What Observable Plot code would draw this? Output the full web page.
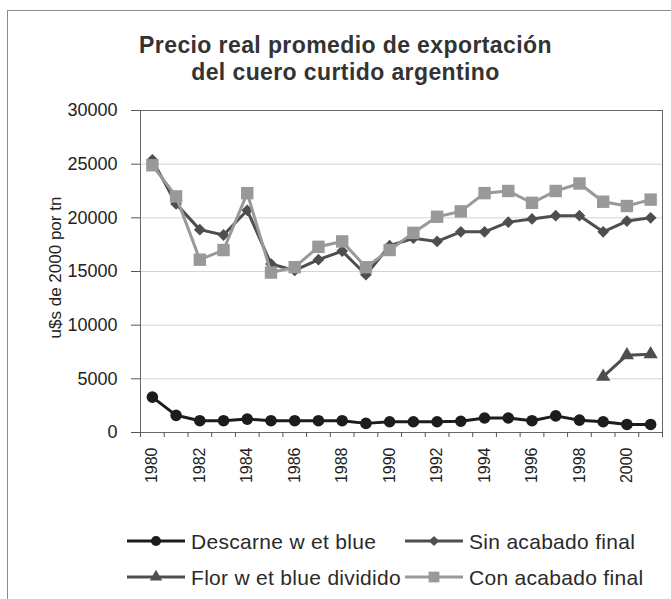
<!DOCTYPE html>
<html><head><meta charset="utf-8">
<script src="https://cdn.jsdelivr.net/npm/d3@7"></script>
<script src="https://cdn.jsdelivr.net/npm/@observablehq/plot@0.6"></script>
<style>
body{margin:0;background:#fff;font-family:"Liberation Sans",Arial,sans-serif;}
#wrap{position:relative;width:671px;height:599px;overflow:hidden;background:#fff;}
#border{position:absolute;left:7px;top:10px;width:700px;height:620px;border:1px solid #8a8a8a;}
#title{position:absolute;left:10px;width:671px;top:32px;text-align:center;font-weight:bold;font-size:23px;letter-spacing:0.4px;line-height:27px;color:#333;}
#chart{position:absolute;left:0;top:90px;}
#legend{position:absolute;left:0;top:0;}
</style></head>
<body><div id="wrap"><div id="border"></div><div id="title">Precio real promedio de exportación<br>del cuero curtido argentino</div><div id="chart"></div><svg id="legend" width="671" height="599"></svg></div>
<script>
const years = [1980,1981,1982,1983,1984,1985,1986,1987,1988,1989,1990,1991,1992,1993,1994,1995,1996,1997,1998,1999,2000,2001];
const descarne = [3300,1600,1100,1100,1250,1100,1100,1100,1100,850,1000,1000,1000,1050,1350,1350,1100,1550,1150,1000,750,750];
const sinAcabado = [25400,21300,18900,18400,20700,15700,15100,16100,16900,14700,17400,18100,17800,18700,18700,19600,19900,20200,20200,18700,19700,20000];
const florDividido = [null,null,null,null,null,null,null,null,null,null,null,null,null,null,null,null,null,null,null,5200,7200,7300];
const conAcabado = [24900,22000,16100,17000,22300,14900,15400,17300,17800,15400,17000,18600,20100,20600,22300,22500,21400,22500,23200,21500,21100,21700];
const seriesNames = ["Descarne w et blue","Sin acabado final","Flor w et blue dividido","Con acabado final"];
const yTicks = [0,5000,10000,15000,20000,25000,30000];
const yLabel = "u$s de 2000 por tn";

const seriesValues = [descarne, sinAcabado, florDividido, conAcabado];
const colors = ["#1c1c1c","#4e4e4e","#4e4e4e","#999999"];
const symbols = ["circle","diamond2","triangle","square"];
const radii = [5.8,5.3,5.3,7];

const bounds = years.map(y => y - 0.5).concat([years[years.length-1] + 0.5]);
const labelYears = years.filter((y,i) => i % 2 === 0);

const marks = [
  Plot.gridY(yTicks, {stroke:"#d4d4d4", strokeOpacity:1}),
  Plot.frame({stroke:"#666"}),
  Plot.axisY(yTicks, {tickSize:9, tickPadding:14, fontSize:18, tickFormat:d => String(d), label:null, stroke:"#555"}),
  Plot.text([yLabel], {frameAnchor:"left", dx:-85, dy:-4, rotate:-90, textAnchor:"middle", text:d=>d, fontSize:17, fill:"#222"}),
  Plot.axisX(bounds, {tickSize:5, tickFormat:() => "", label:null, stroke:"#555"}),
  Plot.axisX(labelYears, {tickSize:0, tickPadding:15, tickRotate:-90, tickFormat:d => String(d), fontSize:16, label:null})
];
seriesValues.forEach((arr, k) => {
  const data = years.map((yr, i) => ({year: yr, v: arr[i]}));
  marks.push(Plot.line(data, {x:"year", y:"v", stroke:colors[k], strokeWidth:3}));
  marks.push(Plot.dot(data.filter(d => d.v != null), {x:"year", y:"v", symbol:()=>symbols[k], fill:colors[k], stroke:"none", r:radii[k]}));
});

const chart = Plot.plot({
  width:671, height:400,
  marginLeft:140, marginRight:9, marginTop:20, marginBottom:58,
  style:{fontFamily:"Liberation Sans, Arial, sans-serif", color:"#222", background:"transparent"},
  x:{type:"linear", domain:[bounds[0], bounds[bounds.length-1]], axis:null},
  y:{domain:[yTicks[0], yTicks[yTicks.length-1]], axis:null},
  symbol:{type:"identity"},
  marks
});
document.getElementById("chart").appendChild(chart);

// legend
const lg = d3.select("#legend");
const legendPos = [[127,541],[405,541],[127,577],[405,577]];
const symMap = {circle:d3.symbolCircle, diamond2:d3.symbolDiamond2, triangle:d3.symbolTriangle, square:d3.symbolSquare};
seriesNames.forEach((name, k) => {
  const [x0, y0] = legendPos[k];
  const g = lg.append("g").attr("transform", `translate(${x0},${y0})`);
  g.append("line").attr("x1",0).attr("x2",58).attr("y1",0).attr("y2",0).attr("stroke",colors[k]).attr("stroke-width",3);
  g.append("path").attr("transform","translate(29,0)").attr("d", d3.symbol(symMap[symbols[k]], Math.PI*radii[k]*radii[k]*0.75)()).attr("fill",colors[k]);
  g.append("text").attr("x",64).attr("y",0).attr("dy","0.36em").attr("font-size",21).attr("letter-spacing","0.3px").attr("fill","#2a2a2a").attr("font-family","Liberation Sans, Arial, sans-serif").text(name);
});
</script>
</body></html>
